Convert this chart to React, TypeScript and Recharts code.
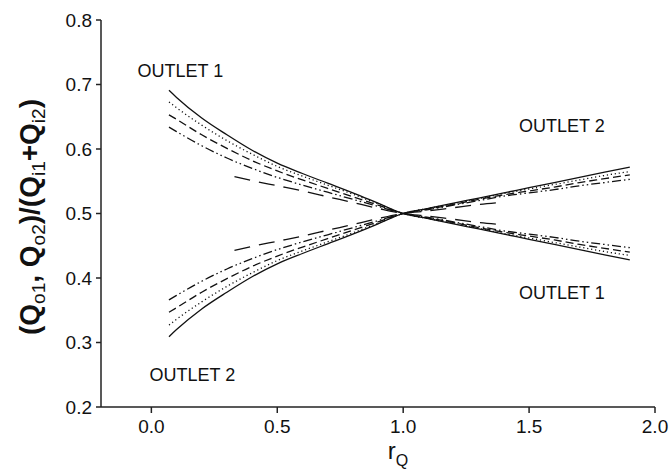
import React from 'react';
import { LineChart, Line, XAxis, YAxis, ReferenceDot } from 'recharts';

const R_MAIN = [0.07, 0.1, 0.2, 0.3, 0.4, 0.5, 0.6, 0.7, 0.8, 0.9, 1.0, 1.1, 1.2, 1.3, 1.4, 1.5, 1.6, 1.7, 1.8, 1.9];
const R_LONG = [0.33, 0.4, 0.5, 0.6, 0.7, 0.8, 0.9, 1.0, 1.1, 1.2, 1.3, 1.38];

const solidO1 = [0.691, 0.680, 0.648, 0.622, 0.598, 0.578, 0.562, 0.547, 0.532, 0.516, 0.500, 0.492, 0.484, 0.476, 0.468, 0.460, 0.452, 0.444, 0.436, 0.428];
const dottedO1 = [0.673, 0.664, 0.637, 0.613, 0.592, 0.573, 0.558, 0.544, 0.530, 0.515, 0.500, 0.492, 0.485, 0.477, 0.469, 0.462, 0.455, 0.448, 0.441, 0.435];
const dashedO1 = [0.653, 0.646, 0.622, 0.601, 0.582, 0.566, 0.552, 0.539, 0.526, 0.513, 0.500, 0.493, 0.486, 0.478, 0.471, 0.465, 0.459, 0.452, 0.446, 0.440];
const dashDotO1 = [0.634, 0.627, 0.605, 0.586, 0.570, 0.556, 0.544, 0.533, 0.522, 0.511, 0.500, 0.494, 0.487, 0.480, 0.473, 0.468, 0.463, 0.457, 0.452, 0.447];
const longDashO1 = [0.557, 0.551, 0.543, 0.535, 0.526, 0.517, 0.508, 0.500, 0.496, 0.491, 0.486, 0.483];

const solidO2 = [0.309, 0.320, 0.352, 0.378, 0.402, 0.422, 0.438, 0.453, 0.468, 0.484, 0.500, 0.508, 0.516, 0.524, 0.532, 0.540, 0.548, 0.556, 0.564, 0.572];
const dottedO2 = [0.327, 0.336, 0.363, 0.387, 0.408, 0.427, 0.442, 0.456, 0.470, 0.485, 0.500, 0.508, 0.515, 0.523, 0.531, 0.538, 0.545, 0.552, 0.559, 0.565];
const dashedO2 = [0.347, 0.354, 0.378, 0.399, 0.418, 0.434, 0.448, 0.461, 0.474, 0.487, 0.500, 0.507, 0.514, 0.522, 0.529, 0.535, 0.541, 0.548, 0.554, 0.560];
const dashDotO2 = [0.366, 0.373, 0.395, 0.414, 0.430, 0.444, 0.456, 0.467, 0.478, 0.489, 0.500, 0.506, 0.513, 0.520, 0.527, 0.532, 0.537, 0.543, 0.548, 0.553];
const longDashO2 = [0.443, 0.449, 0.457, 0.465, 0.474, 0.483, 0.492, 0.500, 0.504, 0.509, 0.514, 0.517];

const X_TICKS = [0, 0.5, 1.0, 1.5, 2.0];
const Y_TICKS = [0.2, 0.3, 0.4, 0.5, 0.6, 0.7, 0.8];

const OUTLET_LABELS = [
  { x: 0.115, y: 0.722, text: 'OUTLET 1' },
  { x: 1.63, y: 0.636, text: 'OUTLET 2' },
  { x: 1.63, y: 0.378, text: 'OUTLET 1' },
  { x: 0.163, y: 0.25, text: 'OUTLET 2' },
];

const toPts = (xs: number[], ys: number[]) => xs.map((x, i) => ({ x, y: ys[i] }));

const FONT = '"Liberation Sans", Arial, sans-serif';

const SERIES = [
  { key: 's1', data: toPts(R_MAIN, solidO1), dash: undefined },
  { key: 'd1', data: toPts(R_MAIN, dottedO1), dash: '1.2 2.8' },
  { key: 'm1', data: toPts(R_MAIN, dashedO1), dash: '8 4' },
  { key: 'dd1', data: toPts(R_MAIN, dashDotO1), dash: '9 3 1.5 3 1.5 3' },
  { key: 'l1', data: toPts(R_LONG, longDashO1), dash: '16 9' },
  { key: 's2', data: toPts(R_MAIN, solidO2), dash: undefined },
  { key: 'd2', data: toPts(R_MAIN, dottedO2), dash: '1.2 2.8' },
  { key: 'm2', data: toPts(R_MAIN, dashedO2), dash: '8 4' },
  { key: 'dd2', data: toPts(R_MAIN, dashDotO2), dash: '9 3 1.5 3 1.5 3' },
  { key: 'l2', data: toPts(R_LONG, longDashO2), dash: '16 9' },
];

const YLabel = () => (
  <text
    transform="rotate(-90, 29, 217)"
    x={29}
    y={217}
    dy={10}
    textAnchor="middle"
    fontFamily={FONT}
    fontSize={28}
    fontWeight="bold"
    fill="#111"
  >
    <tspan>(Q</tspan>
    <tspan fontSize={19} fontWeight="normal" dy={6}>o1</tspan>
    <tspan dy={-6}>, Q</tspan>
    <tspan fontSize={19} fontWeight="normal" dy={6}>o2</tspan>
    <tspan dy={-6}>)/(Q</tspan>
    <tspan fontSize={19} fontWeight="normal" dy={6}>i1</tspan>
    <tspan dy={-6}>+Q</tspan>
    <tspan fontSize={19} fontWeight="normal" dy={6}>i2</tspan>
    <tspan dy={-6}>)</tspan>
  </text>
);

const XLabel = () => (
  <text x={398} y={459} textAnchor="middle" fontFamily={FONT} fontSize={24} fill="#111">
    <tspan>r</tspan>
    <tspan fontSize={16} dy={7}>Q</tspan>
  </text>
);

export default function App() {
  return (
    <div style={{ position: 'absolute', left: 0, top: 0, background: '#fff' }}>
      <LineChart width={671} height={472} margin={{ top: 20, right: 16, bottom: 0, left: 0 }}>
        <XAxis
          dataKey="x"
          type="number"
          domain={[-0.2, 2.0]}
          ticks={X_TICKS}
          tickFormatter={(v: number) => v.toFixed(1)}
          height={65}
          tickSize={6}
          tickMargin={7}
          tick={{ fontSize: 19, fill: '#111', fontFamily: FONT }}
          stroke="#222"
          strokeWidth={1.5}
          allowDataOverflow
          label={<XLabel />}
        />
        <XAxis xAxisId="top" orientation="top" type="number" domain={[-0.2, 2.0]} tick={false} tickLine={false} height={0} stroke="#222" strokeWidth={1.5} />
        <YAxis
          type="number"
          domain={[0.2, 0.8]}
          ticks={Y_TICKS}
          tickFormatter={(v: number) => v.toFixed(1)}
          width={101}
          tickSize={5}
          tickMargin={4}
          tick={{ fontSize: 19, fill: '#111', fontFamily: FONT }}
          stroke="#222"
          strokeWidth={1.5}
          allowDataOverflow
          label={<YLabel />}
        />
        <YAxis yAxisId="right" orientation="right" type="number" domain={[0.2, 0.8]} tick={false} tickLine={false} width={0} stroke="#222" strokeWidth={1.5} />
        {SERIES.map((s) => (
          <Line
            key={s.key}
            data={s.data}
            dataKey="y"
            type="monotone"
            stroke="#111"
            strokeWidth={1.3}
            strokeDasharray={s.dash}
            dot={false}
            activeDot={false}
            isAnimationActive={false}
          />
        ))}
        {OUTLET_LABELS.map((l, i) => (
          <ReferenceDot
            key={i}
            x={l.x}
            y={l.y}
            r={0}
            fill="none"
            stroke="none"
            label={{ value: l.text, position: 'center', fontSize: 18, fill: '#111', fontFamily: FONT }}
          />
        ))}
      </LineChart>
    </div>
  );
}
